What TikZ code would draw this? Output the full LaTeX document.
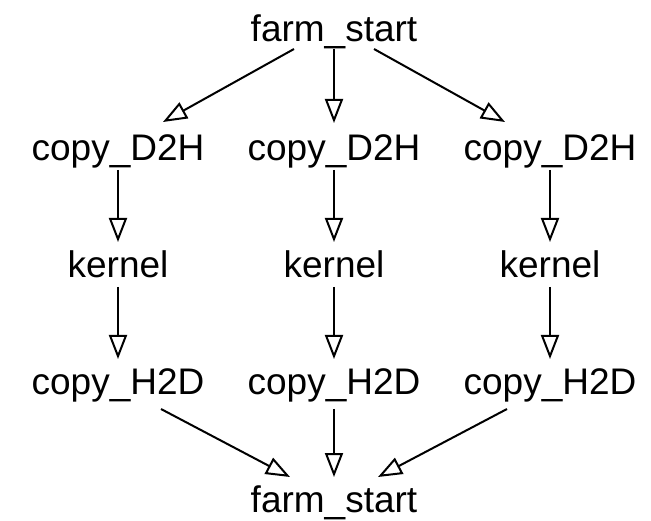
\documentclass[tikz,border=0pt]{standalone}
\usepackage{fontspec}
\setmainfont{Liberation Sans}
\usetikzlibrary{arrows.meta}
\begin{document}
\begin{tikzpicture}[x=1pt,y=1pt,
  lbl/.style={inner sep=0pt, anchor=base, font=\fontsize{37}{44}\selectfont},
  arr/.style={line width=2pt, -{Triangle[open, length=24pt, width=18pt, line width=2pt]}}]
\useasboundingbox (0,0) rectangle (651,520);
% text rows (baselines)
\node[lbl] (fs1) at (334,478) {farm\_start};
\node[lbl] (d1) at (118,359) {copy\_D2H};
\node[lbl] (d2) at (334,359) {copy\_D2H};
\node[lbl] (d3) at (550,359) {copy\_D2H};
\node[lbl] (k1) at (118,242) {kernel};
\node[lbl] (k2) at (334,242) {kernel};
\node[lbl] (k3) at (550,242) {kernel};
\node[lbl] (h1) at (118,125) {copy\_H2D};
\node[lbl] (h2) at (334,125) {copy\_H2D};
\node[lbl] (h3) at (550,125) {copy\_H2D};
\node[lbl] (fs2) at (334,8) {farm\_start};
% fan out
\draw[arr] ([shift={(-40,-7)}]fs1.base) -- ([shift={(45,39)}]d1.base);
\draw[arr] ([shift={(0,-7)}]fs1.base) -- ([shift={(0,38)}]d2.base);
\draw[arr] ([shift={(40,-7)}]fs1.base) -- ([shift={(-45,39)}]d3.base);
% columns
\foreach \a/\b in {d1/k1,d2/k2,d3/k3,k1/h1,k2/h2,k3/h3}
  \draw[arr] ([yshift=-9]\a.base) -- ([yshift=36]\b.base);
% fan in
\draw[arr] ([shift={(43,-14)}]h1.base) -- ([shift={(-44,35)}]fs2.base);
\draw[arr] ([shift={(0,-14)}]h2.base) -- ([shift={(0,35)}]fs2.base);
\draw[arr] ([shift={(-43,-14)}]h3.base) -- ([shift={(44,35)}]fs2.base);
\end{tikzpicture}
\end{document}
